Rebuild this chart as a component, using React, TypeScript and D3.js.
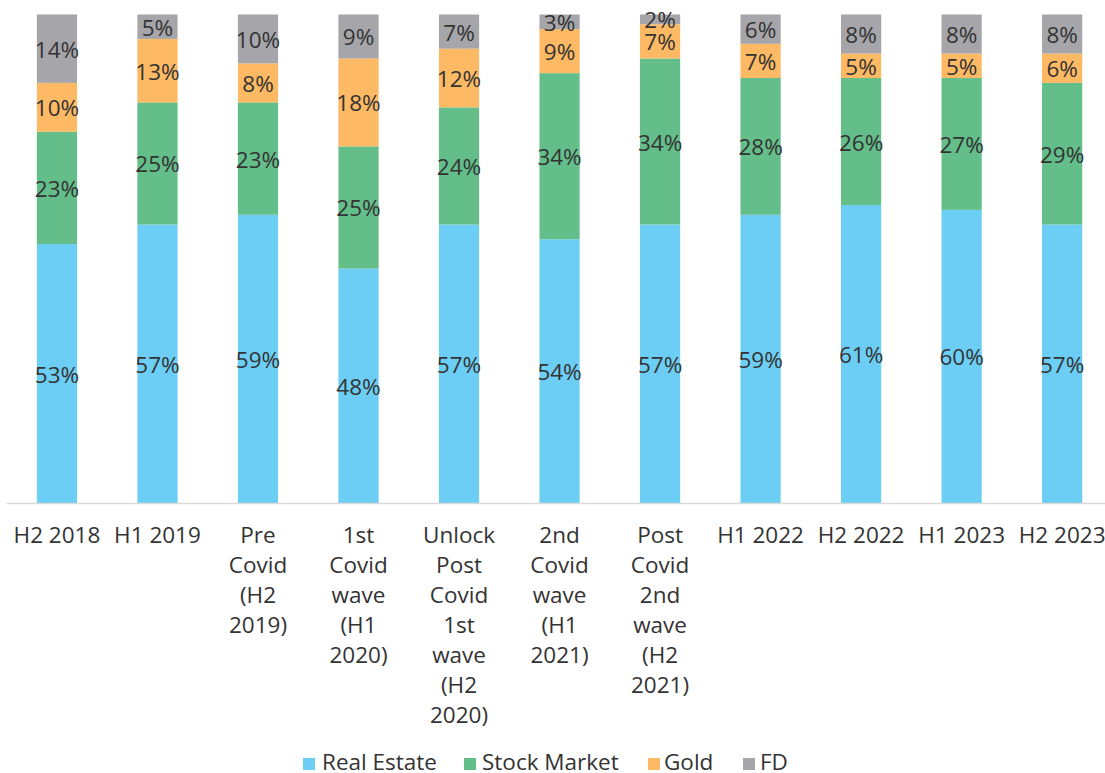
import React from "react";
import * as d3 from "d3";

const categories: string[][] = [
  ["H2 2018"],
  ["H1 2019"],
  ["Pre", "Covid", "(H2", "2019)"],
  ["1st", "Covid", "wave", "(H1", "2020)"],
  ["Unlock", "Post", "Covid", "1st", "wave", "(H2", "2020)"],
  ["2nd", "Covid", "wave", "(H1", "2021)"],
  ["Post", "Covid", "2nd", "wave", "(H2", "2021)"],
  ["H1 2022"],
  ["H2 2022"],
  ["H1 2023"],
  ["H2 2023"],
];

const realEstate = [53, 57, 59, 48, 57, 54, 57, 59, 61, 60, 57];
const stockMarket = [23, 25, 23, 25, 24, 34, 34, 28, 26, 27, 29];
const gold = [10, 13, 8, 18, 12, 9, 7, 7, 5, 5, 6];
const fd = [14, 5, 10, 9, 7, 3, 2, 6, 8, 8, 8];

const seriesNames = ["Real Estate", "Stock Market", "Gold", "FD"];
const seriesColors = ["#6DCEF5", "#64BE8A", "#FDB963", "#A6A6AA"];

const W = 1105;
const H = 773;
const FONT = "'Open Sans', sans-serif";

export default function App() {
  const seriesData = [realEstate, stockMarket, gold, fd];
  const keys = categories.map((c) => c.join(" "));
  const rows = keys.map((k, i) => {
    const r: any = { key: k };
    seriesNames.forEach((s, j) => (r[s] = seriesData[j][i]));
    return r;
  });
  const stacked = d3.stack<any>().keys(seriesNames)(rows);

  const x = d3
    .scaleBand<string>()
    .domain(keys)
    .range([6.7, 1112.4])
    .paddingInner(0.6)
    .paddingOuter(0.3);
  const y = d3.scaleLinear().domain([0, 100]).range([503, 14.5]);

  const legendX = [303, 464, 648, 743];
  const legendTextX = [322, 482, 664, 760];

  return (
    <div style={{ position: "fixed", left: 0, top: 0, width: W, height: H, background: "#fff" }}>
      <svg width={W} height={H} style={{ display: "block" }} fontFamily={FONT}>
        {stacked.map((layer, li) => (
          <g key={layer.key}>
            {layer.map((d, i) => {
              const bx = x(keys[i])!;
              const y0 = y(d[0]);
              const y1 = y(d[1]);
              return (
                <g key={i}>
                  <rect x={bx} y={y1} width={x.bandwidth()} height={y0 - y1} fill={seriesColors[li]} />
                  <text
                    x={bx + x.bandwidth() / 2}
                    y={(y0 + y1) / 2 + 9}
                    textAnchor="middle"
                    fontSize={22.5}
                    fill="#333"
                  >
                    {seriesData[li][i]}%
                  </text>
                </g>
              );
            })}
          </g>
        ))}
        <line x1={7} x2={W} y1={503.5} y2={503.5} stroke="#D9D9D9" strokeWidth={1.5} />
        {categories.map((lines, i) => (
          <text
            key={i}
            x={x(keys[i])! + x.bandwidth() / 2}
            y={543}
            textAnchor="middle"
            fontSize={22.5}
            fill="#333"
          >
            {lines.map((l, j) => (
              <tspan key={j} x={x(keys[i])! + x.bandwidth() / 2} dy={j === 0 ? 0 : 30}>
                {l}
              </tspan>
            ))}
          </text>
        ))}
        {seriesNames.map((s, i) => (
          <g key={s}>
            <rect x={legendX[i]} y={758} width={12} height={12} fill={seriesColors[i]} />
            <text x={legendTextX[i]} y={770} fontSize={22.5} fill="#333">
              {s}
            </text>
          </g>
        ))}
      </svg>
    </div>
  );
}
